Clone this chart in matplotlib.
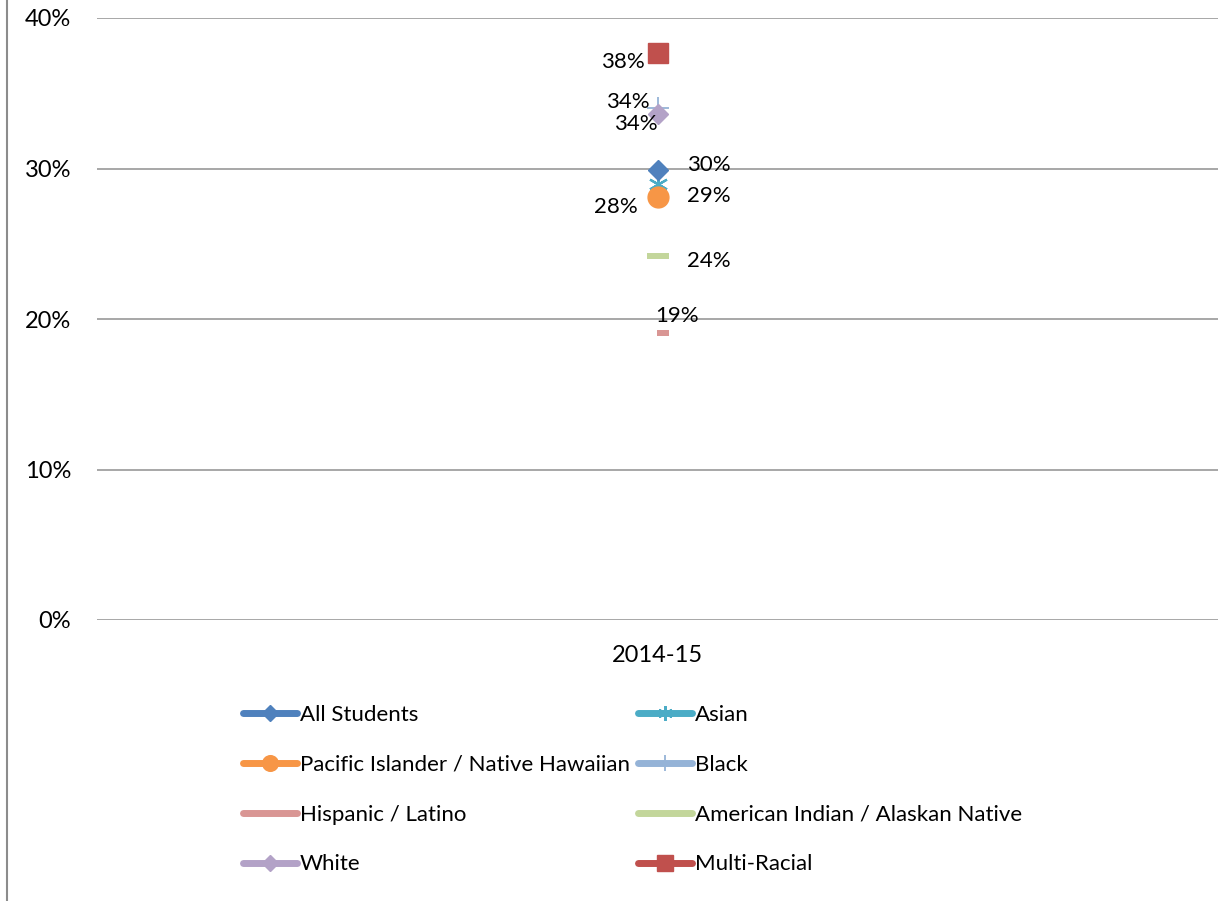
import matplotlib
matplotlib.use("Agg")
import matplotlib.pyplot as plt
from matplotlib.lines import Line2D
from matplotlib.path import Path

categories = ["2014-15"]
series_names = ["All Students", "Asian", "Pacific Islander / Native Hawaiian", "Black",
                "Hispanic / Latino", "American Indian / Alaskan Native", "White", "Multi-Racial"]
series_values = [0.299, 0.290, 0.281, 0.340, 0.191, 0.242, 0.336, 0.377]
label_texts = ["30%", "29%", "28%", "34%", "19%", "24%", "34%", "38%"]
colors = ["#4F81BD", "#4BACC6", "#F79646", "#95B3D7", "#D99694", "#C3D69B", "#B3A2C7", "#C0504D"]
yticks = [0, 0.1, 0.2, 0.3, 0.4]
ytick_labels = ["0%", "10%", "20%", "30%", "40%"]

FONT = "Lato"

fig = plt.figure(figsize=(12.18, 9.01), dpi=100)
ax = fig.add_axes([97/1218, 1-620/901, 1-97/1218, (620-18)/901])
ax.set_xlim(-0.5, 0.5)
ax.set_ylim(0, 0.4)
for s in ax.spines.values():
    s.set_visible(False)
ax.set_yticks(yticks)
ax.set_yticklabels(ytick_labels, fontfamily=FONT, fontsize=17)
ax.tick_params(axis="y", length=0, pad=18.5)
ax.set_xticks([0])
ax.set_xticklabels(categories, fontfamily=FONT, fontsize=17)
ax.tick_params(axis="x", length=0, pad=18)
ax.grid(axis="y", color="#A0A0A0", linewidth=1.3)
ax.set_axisbelow(True)

star = (6, 2, 0)
dash_off = Path([(-0.1, -0.27), (1.0, -0.27), (1.0, 0.27), (-0.1, 0.27), (-0.1, -0.27)],
                [Path.MOVETO, Path.LINETO, Path.LINETO, Path.LINETO, Path.CLOSEPOLY])
marker_specs = {
    "All Students": dict(marker="D", markersize=10.5, markeredgewidth=1),
    "Asian": dict(marker=star, markersize=14, markeredgewidth=1.6),
    "Pacific Islander / Native Hawaiian": dict(marker="o", markersize=15, markeredgewidth=1),
    "Black": dict(marker="+", markersize=16, markeredgewidth=1.3),
    "Hispanic / Latino": dict(marker=dash_off, markersize=15.8, markeredgewidth=0),
    "American Indian / Alaskan Native": dict(marker="_", markersize=15.8, markeredgewidth=4.3),
    "White": dict(marker="D", markersize=10.5, markeredgewidth=1),
    "Multi-Racial": dict(marker="s", markersize=14.5, markeredgewidth=1),
}
draw_order = ["Hispanic / Latino", "American Indian / Alaskan Native", "Black", "Asian",
              "Pacific Islander / Native Hawaiian", "All Students", "White", "Multi-Racial"]
for name in draw_order:
    i = series_names.index(name)
    ax.plot([0], [series_values[i]], linestyle="none", color=colors[i],
            markerfacecolor=colors[i], markeredgecolor=colors[i], zorder=3, **marker_specs[name])

# data label offsets (points), horizontal alignment; vertical = baseline
label_pos = {
    "All Students": ((21.6, -0.7), "left"),
    "Asian": ((21.6, -13.2), "left"),
    "Pacific Islander / Native Hawaiian": ((-14.4, -11.4), "right"),
    "Black": ((-5.8, 0.0), "right"),
    "Hispanic / Latino": ((-1.4, 7.6), "left"),
    "American Indian / Alaskan Native": ((20.9, -8.1), "left"),
    "White": ((0.0, -11.3), "right"),
    "Multi-Racial": ((-9.4, -11.1), "right"),
}
for i, name in enumerate(series_names):
    off, ha = label_pos[name]
    ax.annotate(label_texts[i], (0, series_values[i]), xytext=off, textcoords="offset points",
                ha=ha, va="baseline", fontfamily=FONT, fontsize=16, color="black", zorder=4)

handles = []
for i, name in enumerate(series_names):
    spec = dict(marker_specs[name])
    if name in ("Hispanic / Latino", "American Indian / Alaskan Native"):
        spec = dict(marker="none")
    else:
        spec["markersize"] = spec["markersize"] * 0.75
    handles.append(Line2D([0], [0], color=colors[i], linewidth=5, solid_capstyle="round",
                          markerfacecolor=colors[i], markeredgecolor=colors[i], **spec))
order = [0, 2, 4, 6, 1, 3, 5, 7]
leg = fig.legend([handles[k] for k in order], [series_names[k] for k in order],
                 loc="upper left", bbox_to_anchor=(243/1218, 1-705/901), ncol=2,
                 frameon=False, prop={"family": FONT, "size": 16},
                 handlelength=2.43, handletextpad=0.14, columnspacing=0.36, labelspacing=1.34,
                 borderpad=0, borderaxespad=0)

fig.add_artist(Line2D([7/1218, 7/1218], [0, 1], transform=fig.transFigure,
                      color="#8C8C8C", linewidth=1.5))

fig.savefig("out.png", dpi=100, facecolor="white")
